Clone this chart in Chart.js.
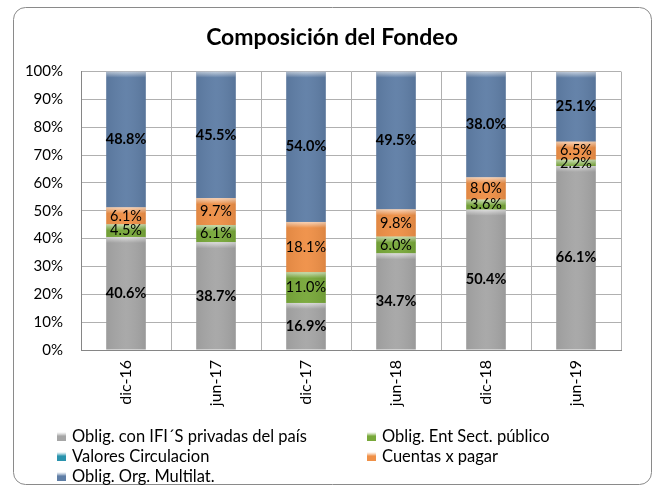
<!DOCTYPE html>
<html>
<head>
<meta charset="utf-8">
<script src="https://cdn.jsdelivr.net/npm/chart.js@4.4.0/dist/chart.umd.min.js"></script>
<style>
  html, body { margin: 0; padding: 0; background: #fff; }
  #wrap { width: 657px; height: 489px; position: relative; }
</style>
</head>
<body>
<div id="wrap"><canvas id="chart" width="657" height="489"></canvas></div>
<script>
// datos del gráfico
const periodos = ['dic-16', 'jun-17', 'dic-17', 'jun-18', 'dic-18', 'jun-19'];
const obligIFI = [40.6, 38.7, 16.9, 34.7, 50.4, 66.1];
const obligEntSect = [4.5, 6.1, 11.0, 6.0, 3.6, 2.2];
const valoresCirc = [0, 0, 0, 0, 0, 0];
const cuentasPagar = [6.1, 9.7, 18.1, 9.8, 8.0, 6.5];
const obligMultilat = [48.8, 45.5, 54.0, 49.5, 38.0, 25.1];
const yTicks = [0, 10, 20, 30, 40, 50, 60, 70, 80, 90, 100];

const FONT = 'Lato, "Open Sans", sans-serif';

// marco redondeado exterior
const framePlugin = {
  id: 'frame',
  beforeDraw(chart) {
    const c = chart.ctx;
    c.save();
    c.strokeStyle = '#8a8a8a';
    c.lineWidth = 1;
    c.beginPath();
    c.roundRect(13.5, 7.5, 638, 477, 12);
    c.stroke();
    c.restore();
  }
};

// brillo superior de cada segmento + etiquetas de valor
const barLabels = {
  id: 'barLabels',
  afterDatasetsDraw(chart) {
    const c = chart.ctx;
    chart.data.datasets.forEach((ds, i) => {
      const meta = chart.getDatasetMeta(i);
      meta.data.forEach((bar, j) => {
        const v = ds.data[j];
        if (!v) return;
        const top = Math.min(bar.y, bar.base);
        const h = Math.abs(bar.base - bar.y);
        const left = bar.x - bar.width / 2;
        c.save();
        const g = c.createLinearGradient(0, top, 0, top + Math.min(6, h));
        g.addColorStop(0, 'rgba(255,255,255,0.6)');
        g.addColorStop(1, 'rgba(255,255,255,0)');
        c.fillStyle = g;
        c.fillRect(left, top, bar.width, Math.min(6, h));
        const side = c.createLinearGradient(left, 0, left + bar.width, 0);
        side.addColorStop(0, 'rgba(0,0,0,0.06)');
        side.addColorStop(0.5, 'rgba(255,255,255,0.04)');
        side.addColorStop(1, 'rgba(0,0,0,0.08)');
        c.fillStyle = side;
        c.fillRect(left, top, bar.width, h);
        c.restore();
      });
    });
    chart.data.datasets.forEach((ds, i) => {
      const meta = chart.getDatasetMeta(i);
      meta.data.forEach((bar, j) => {
        const v = ds.data[j];
        if (!v) return;
        c.save();
        c.fillStyle = '#000';
        c.font = (ds.boldLabel ? 'bold ' : '') + '14.5px ' + FONT;
        c.textAlign = 'center';
        c.textBaseline = 'middle';
        c.fillText(v.toFixed(1) + '%', bar.x, (bar.y + bar.base) / 2);
        c.restore();
      });
    });
  }
};

// leyenda en dos columnas
const legend2col = {
  id: 'legend2col',
  afterDraw(chart) {
    const c = chart.ctx;
    const a = chart.chartArea;
    const cols = [a.left - 24, a.left + 286];
    chart.data.datasets.forEach((ds, i) => {
      const x = cols[i % 2];
      const y = a.bottom + 87 + Math.floor(i / 2) * 20;
      c.save();
      const g = c.createLinearGradient(0, y - 5, 0, y + 5);
      g.addColorStop(0, 'rgba(255,255,255,0.7)');
      g.addColorStop(0.4, ds.backgroundColor);
      g.addColorStop(1, ds.backgroundColor);
      c.fillStyle = g;
      c.fillRect(x, y - 5, 9, 9);
      c.fillStyle = '#000';
      c.font = '16.5px ' + FONT;
      c.textAlign = 'left';
      c.textBaseline = 'middle';
      c.fillText(ds.label, x + 15, y);
      c.restore();
    });
  }
};

new Chart(document.getElementById('chart'), {
  type: 'bar',
  data: {
    labels: periodos,
    datasets: [
      { label: 'Oblig. con IFI´S privadas del país', data: obligIFI, backgroundColor: '#a6a6a6', boldLabel: true },
      { label: 'Oblig. Ent Sect. público', data: obligEntSect, backgroundColor: '#78a83a', boldLabel: false },
      { label: 'Valores Circulacion', data: valoresCirc, backgroundColor: '#2a93ad', boldLabel: false },
      { label: 'Cuentas x pagar', data: cuentasPagar, backgroundColor: '#ef9047', boldLabel: false },
      { label: 'Oblig. Org. Multilat.', data: obligMultilat, backgroundColor: '#5f7ea6', boldLabel: true }
    ]
  },
  options: {
    responsive: false,
    animation: false,
    events: [],
    categoryPercentage: 1,
    barPercentage: 0.44,
    layout: { padding: { left: 7, right: 0, top: 0, bottom: 0 } },
    plugins: {
      legend: { display: false },
      tooltip: { enabled: false },
      title: {
        display: true,
        text: 'Composición del Fondeo',
        color: '#000',
        font: { family: FONT, size: 23, weight: 'bold' },
        padding: { top: 24, bottom: 20 }
      }
    },
    scales: {
      x: {
        stacked: true,
        grid: { color: '#b0b0b0', drawTicks: false },
        border: { color: '#868686' },
        ticks: {
          color: '#000',
          font: { family: FONT, size: 16 },
          minRotation: 90,
          maxRotation: 90,
          padding: 10
        },
        afterFit(scale) { scale.height = 139; }
      },
      y: {
        stacked: true,
        min: yTicks[0],
        max: yTicks[yTicks.length - 1],
        grid: { color: '#b0b0b0', drawTicks: false },
        border: { color: '#868686' },
        ticks: {
          stepSize: yTicks[1] - yTicks[0],
          color: '#000',
          font: { family: FONT, size: 15 },
          padding: 18,
          callback: v => v + '%'
        },
        afterFit(scale) { scale.width = 74; }
      },
      // eje derecho vacío, sólo reserva margen
      yRight: {
        position: 'right',
        display: false,
        afterFit(scale) { scale.width = 36; }
      }
    }
  },
  plugins: [framePlugin, barLabels, legend2col]
});
</script>
</body>
</html>
